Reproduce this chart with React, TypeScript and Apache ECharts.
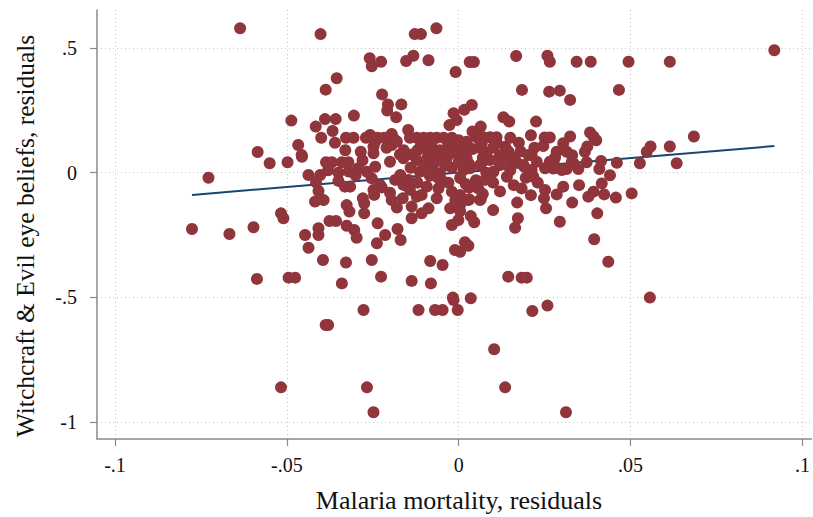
import React, { useEffect, useRef } from "react";
import * as echarts from "echarts";

const xTicks = [-0.1, -0.05, 0, 0.05, 0.1];
const yTicks = [-1, -0.5, 0, 0.5];
const xTitle = "Malaria mortality, residuals";
const yTitle = "Witchcraft & Evil eye beliefs, residuals";

const upperPoints: number[][] = [
  [-0.0636, 0.579], [0.0918, 0.491], [-0.0065, 0.579], [-0.0402, 0.556], [-0.0128, 0.556], [-0.011, 0.556],
  [-0.0259, 0.459], [-0.0253, 0.427], [-0.0226, 0.445], [-0.0153, 0.448], [-0.0132, 0.469], [-0.0088, 0.451],
  [-0.0355, 0.379], [-0.0387, 0.333], [-0.0223, 0.314], [-0.0206, 0.274], [-0.0208, 0.249], [-0.0167, 0.274],
  [-0.0182, 0.222], [-0.0009, 0.404], [-0.0487, 0.209], [-0.0389, 0.215], [-0.0358, 0.215], [-0.0305, 0.229],
  [0.0032, 0.444], [0.0044, 0.444], [0.0167, 0.468], [0.0258, 0.469], [0.0265, 0.445], [0.0343, 0.445],
  [0.0384, 0.445], [0.0494, 0.445], [0.0614, 0.445], [0.0184, 0.332], [0.0263, 0.325], [0.0294, 0.329],
  [0.0324, 0.292], [0.0466, 0.332], [0.0038, 0.272], [0.0016, 0.252], [-0.0006, 0.211], [0.013, 0.222],
  [0.0147, 0.205], [0.0225, 0.205], [-0.0015, 0.238],
];

const midUpperPoints: number[][] = [
  [-0.0585, 0.083], [-0.0416, 0.185], [-0.0367, 0.167], [-0.0467, 0.111], [-0.0457, 0.071], [-0.0328, 0.14], [-0.0306, 0.14],
  [0.0064, 0.185], [0.0382, 0.161], [0.0392, 0.145], [0.0324, 0.145], [0.0265, 0.141], [0.025, 0.141], [0.0246, 0.107],
  [0.0304, 0.118], [0.0374, 0.105], [0.0367, 0.084], [0.0135, 0.104], [0.0145, 0.084], [0.011, 0.142], [0.0091, 0.142],
  [0.0072, 0.142], [0.0052, 0.142], [0.0023, 0.124], [0.0067, 0.118], [0.0203, 0.071], [0.0212, 0.071], [0.0285, 0.084],
  [0.0314, 0.084], [0.0684, 0.145], [0.0558, 0.105], [0.0614, 0.105], [0.0547, 0.084],
  [-0.0285, 0.084], [-0.0258, 0.151], [-0.0248, 0.104], [-0.0248, 0.078], [-0.0195, 0.155], [-0.019, 0.138], [-0.0147, 0.171],
  [-0.0142, 0.14], [-0.0122, 0.14], [-0.0102, 0.14], [-0.0083, 0.14], [-0.0064, 0.14], [-0.0044, 0.14], [-0.0027, 0.191],
  [-0.002, 0.14], [-0.0171, 0.073], [-0.0137, 0.073], [-0.0088, 0.084], [-0.0044, 0.075], [-0.0195, 0.111], [-0.0243, 0.124],
  [-0.0236, 0.14], [-0.0217, 0.14], [-0.0161, 0.058], [-0.0456, 0.064],
  [-0.0055, 0.09], [-0.001, 0.1], [0.001, 0.075], [0.004, 0.095], [0.008, 0.08], [0.01, 0.1], [0.012, 0.07],
  [0.016, 0.06], [0.018, 0.085], [-0.016, 0.09], [-0.011, 0.11], [0.0, 0.13], [0.004, 0.165], [0.015, 0.14],
  [0.0175, 0.12], [-0.027, 0.14], [-0.04, 0.14], [0.04, 0.13], [0.021, 0.15], [0.007, 0.06], [-0.0065, 0.06],
  [-0.012, 0.09], [-0.008, 0.11], [-0.003, 0.115], [0.002, 0.105], [0.006, 0.1], [0.011, 0.12], [0.014, 0.09],
  [-0.018, 0.125], [-0.021, 0.1], [-0.009, 0.065], [-0.002, 0.08], [-0.028, 0.05], [-0.033, 0.09], [-0.036, 0.12],
  [0.028, 0.06], [0.033, 0.07], [0.022, 0.1],
];

const corePoints: number[][] = [
  [0.0527, 0.038], [0.0634, 0.038], [0.0414, 0.047], [0.0409, 0.015], [0.0372, 0.042], [0.0348, 0.015], [0.0329, 0.044],
  [0.0314, 0.015], [0.0285, 0.02], [0.0265, 0.044], [0.0275, 0.017], [0.0227, 0.044], [0.0217, -0.016], [0.0183, -0.063],
  [0.0251, -0.069], [0.0248, -0.103], [0.0254, -0.143], [0.0285, -0.087], [0.0304, -0.056], [0.0294, -0.197], [0.0377, -0.096],
  [0.0392, -0.076], [0.0416, -0.043], [0.0423, -0.087], [0.0457, -0.1], [0.0503, -0.083], [0.0403, -0.163], [0.0172, -0.183],
  [0.0035, -0.174], [0.0045, -0.199], [0.0004, -0.154], [-0.0001, -0.19], [0.0062, -0.11], [0.0028, -0.11],
  [-0.0728, -0.02], [-0.055, 0.038], [-0.0498, 0.042], [-0.0386, 0.042], [-0.0369, 0.042], [-0.034, 0.042], [-0.0321, 0.042],
  [-0.0437, -0.009], [-0.0403, -0.009], [-0.0415, -0.039], [-0.035, -0.033], [-0.0331, -0.056], [-0.0316, -0.056],
  [-0.0408, -0.073], [-0.0418, -0.116], [-0.0393, -0.11], [-0.0517, -0.163], [-0.051, -0.183], [-0.0376, -0.194],
  [-0.0357, -0.194], [-0.0275, -0.123], [-0.0275, -0.163], [-0.0279, -0.103], [-0.0326, -0.13], [-0.0318, -0.156],
  [-0.0195, -0.11], [-0.0163, -0.103], [-0.0137, -0.183], [-0.0137, -0.136], [-0.0122, -0.096], [-0.0108, -0.163],
  [-0.0088, -0.143], [-0.0064, -0.103], [-0.0248, -0.069], [-0.0224, -0.059], [-0.0246, -0.089], [-0.0161, -0.049],
  [-0.0142, -0.069], [-0.0025, -0.143], [-0.0292, 0.018], [-0.0267, 0.004], [-0.0243, 0.024], [-0.0253, -0.023],
  [-0.0229, -0.049], [-0.02, 0.044], [-0.0122, 0.051], [-0.0073, 0.038], [-0.0113, 0.004], [-0.0084, -0.012],
  [-0.0054, -0.002], [-0.0044, -0.036], [-0.002, -0.076], [-0.0059, -0.063], [-0.0093, -0.056], [-0.0108, -0.089],
  [-0.017, -0.009], [-0.0185, -0.029], [-0.0146, -0.029],
  [0.0004, -0.021], [0.0033, 0.018], [0.0062, 0.031], [0.0077, -0.029], [0.0057, -0.063], [0.0064, -0.107], [0.0031, -0.107],
  [0.0004, -0.089], [0.0004, -0.129], [0.014, -0.016], [0.012, 0.031], [0.0149, 0.044], [0.0188, 0.031], [0.0212, 0.011],
  [0.0251, 0.018], [0.03, 0.011], [0.0334, 0.038], [0.0101, 0.004], [0.0091, 0.051], [0.0023, 0.058], [0.0014, 0.011],
  [-0.002, 0.02], [-0.0035, 0.058], [0.005, -0.03], [0.01, -0.04], [0.012, -0.075], [0.009, -0.01],
  [-0.003, -0.04], [-0.0075, 0.01], [-0.01, 0.03], [-0.014, 0.02], [-0.004, 0.03], [0.015, 0.01],
  [0.0195, -0.02], [0.0, 0.045], [0.003, -0.06], [-0.001, -0.11], [0.008, 0.0], [-0.03, -0.01],
  [-0.032, 0.005], [-0.035, 0.0], [-0.038, 0.01], [-0.02, -0.08], [-0.018, -0.14], [0.021, -0.09],
  [0.017, -0.12], [0.01, -0.15], [0.035, -0.05], [0.033, -0.12], [0.044, -0.01], [0.046, 0.04],
  [0.003, 0.035], [0.007, 0.045], [0.013, 0.055], [0.017, 0.04], [-0.006, -0.02], [-0.012, -0.04],
  [0.002, -0.045], [0.007, -0.085], [0.016, -0.05], [0.023, -0.04], [0.019, 0.025],
];

const lowerPoints: number[][] = [
  [0.0556, -0.501], [0.0394, -0.267], [0.0435, -0.357], [0.0144, -0.417], [0.0183, -0.421], [0.0198, -0.421], [0.0164, -0.221],
  [0.0018, -0.279], [0.0028, -0.293], [0.0004, -0.317], [0.0035, -0.504], [-0.0003, -0.551], [0.0214, -0.555], [0.0258, -0.533],
  [0.0103, -0.708], [0.0135, -0.861], [0.0312, -0.961], [-0.0387, -0.611], [-0.038, -0.611], [-0.0277, -0.551],
  [-0.0117, -0.551], [-0.0069, -0.551], [-0.0047, -0.551], [-0.0015, -0.511], [-0.0517, -0.861], [-0.0267, -0.861],
  [-0.0248, -0.961], [-0.0776, -0.226], [-0.0667, -0.246], [-0.0597, -0.219], [-0.0587, -0.426], [-0.0408, -0.223],
  [-0.0408, -0.25], [-0.0447, -0.25], [-0.0326, -0.213], [-0.0304, -0.23], [-0.0297, -0.261], [-0.0437, -0.301],
  [-0.0395, -0.35], [-0.0328, -0.36], [-0.0495, -0.421], [-0.0476, -0.421], [-0.034, -0.444], [-0.0253, -0.35],
  [-0.0226, -0.417], [-0.0236, -0.203], [-0.0214, -0.25], [-0.0238, -0.283], [-0.0178, -0.226], [-0.0169, -0.27],
  [-0.002, -0.21], [-0.0011, -0.31], [-0.0083, -0.354], [-0.0047, -0.37], [-0.0137, -0.434], [-0.0081, -0.444],
  [-0.0017, -0.501],
];

const fitX = [-0.0776, 0.0918];
const fitY = [-0.089, 0.107];

const FONT = "'Liberation Serif', 'DejaVu Serif', serif";
const AXIS_COLOR = "#8a8a8a";

function stataLabel(v: number): string {
  let s = String(Math.round(v * 1000) / 1000);
  s = s.replace(/^(-?)0\./, "$1.");
  return s;
}

export default function App() {
  const ref = useRef<HTMLDivElement>(null);
  useEffect(() => {
    if (!ref.current) return;
    const chart = echarts.init(ref.current, undefined, { renderer: "svg" });
    const points = [...upperPoints, ...midUpperPoints, ...corePoints, ...lowerPoints];
    const fitData = fitX.map((x, i) => [x, fitY[i]]);
    chart.setOption({
      animation: false,
      backgroundColor: "#ffffff",
      grid: { left: 97, right: 1, top: 10, bottom: 78, containLabel: false },
      graphic: [
        {
          type: "text",
          x: 459,
          y: 500,
          style: {
            text: xTitle,
            font: `26px ${FONT}`,
            fill: "#111",
            textAlign: "center",
            textVerticalAlign: "middle",
          },
        },
        {
          type: "text",
          x: 25,
          y: 236,
          rotation: Math.PI / 2,
          style: {
            text: yTitle,
            font: `25.5px ${FONT}`,
            fill: "#111",
            textAlign: "center",
            textVerticalAlign: "middle",
          },
        },
      ],
      xAxis: {
        type: "value",
        min: -0.10523,
        max: 0.10262,
        axisLine: { show: true, onZero: false, lineStyle: { color: AXIS_COLOR, width: 1.5 } },
        axisTick: { show: true, length: 7, customValues: xTicks, lineStyle: { color: AXIS_COLOR, width: 1.2 } },
        axisLabel: {
          customValues: xTicks,
          formatter: stataLabel,
          margin: 16,
          fontFamily: FONT,
          fontSize: 20,
          color: "#111",
        },
        splitLine: { show: true, lineStyle: { type: [1, 3], color: "#c4c4c4", width: 1 } },
      },
      yAxis: {
        type: "value",
        min: -1.0682,
        max: 0.6526,
        axisLine: { show: true, onZero: false, lineStyle: { color: AXIS_COLOR, width: 1.5 } },
        axisTick: { show: true, length: 7, customValues: yTicks, lineStyle: { color: AXIS_COLOR, width: 1.2 } },
        axisLabel: {
          customValues: yTicks,
          formatter: stataLabel,
          margin: 20,
          fontFamily: FONT,
          fontSize: 20,
          color: "#111",
        },
        splitLine: { show: true, lineStyle: { type: [1, 3], color: "#c4c4c4", width: 1 } },
      },
      series: [
        {
          type: "line",
          data: fitData,
          showSymbol: false,
          symbol: "none",
          lineStyle: { color: "#1a476f", width: 2 },
          z: 2,
        },
        {
          type: "scatter",
          data: points,
          symbol: "circle",
          symbolSize: 12,
          itemStyle: { color: "#90353b", opacity: 1 },
          z: 3,
        },
      ],
    });
    return () => chart.dispose();
  }, []);
  return (
    <div
      ref={ref}
      style={{ position: "fixed", left: 0, top: 0, width: 813, height: 517, background: "#fff" }}
    />
  );
}
